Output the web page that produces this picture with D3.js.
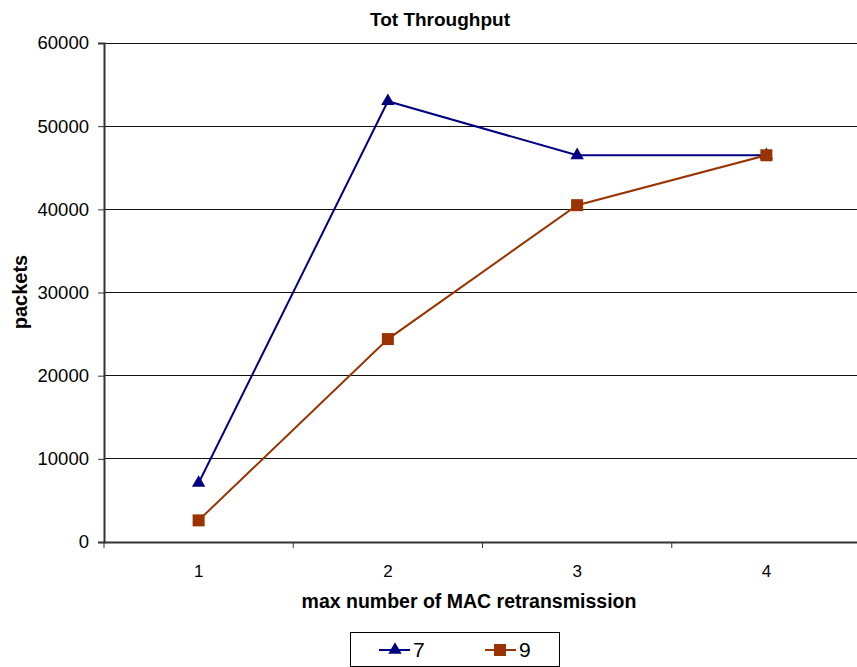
<!DOCTYPE html>
<html><head><meta charset="utf-8">
<script src="https://cdn.jsdelivr.net/npm/d3@7"></script>
<style>body{margin:0;background:#fff}svg{display:block;font-family:"Liberation Sans",Arial,sans-serif}</style>
</head><body><svg id="c" width="857" height="667"></svg>
<script>
const categories = ["1","2","3","4"];
const series7 = [7100, 53000, 46500, 46500];
const series9 = [2600, 24400, 40500, 46500];
const seriesNames = ["7","9"];
const yTicks = [0,10000,20000,30000,40000,50000,60000];

const svg = d3.select("#c");
const L=104, R=861, T=43, B=542;
const x = d3.scaleBand().domain(categories).range([L,R]);
const y = d3.scaleLinear().domain([0,60000]).range([B,T]);

// gridlines
svg.append("g").selectAll("line").data(yTicks.slice(1)).join("line")
  .attr("x1",L).attr("x2",R).attr("y1",d=>y(d)).attr("y2",d=>y(d))
  .attr("stroke","#111").attr("stroke-width",1).attr("shape-rendering","crispEdges");

// y axis
const ya = svg.append("g").attr("transform",`translate(${L},0)`)
  .call(d3.axisLeft(y).tickValues(yTicks).tickSize(6).tickPadding(9).tickFormat(d3.format("d")));
ya.attr("font-family",null).attr("font-size",null);
ya.select(".domain").attr("stroke","#333").attr("stroke-width",2);
ya.selectAll(".tick line").attr("stroke","#333");
ya.selectAll("text").attr("font-size",18.5).attr("fill","#000");

// x axis
const xa = svg.append("g").attr("transform",`translate(0,${B})`)
  .call(d3.axisBottom(x).tickSize(0).tickPadding(23));
xa.attr("font-family",null).attr("font-size",null);
xa.select(".domain").attr("stroke","#333").attr("stroke-width",2);
xa.selectAll("text").attr("font-size",17).attr("fill","#000");
xa.selectAll(".bt").data(d3.range(categories.length+1)).join("line")
  .attr("x1",i=>L+i*x.step()).attr("x2",i=>L+i*x.step()).attr("y1",0).attr("y2",6)
  .attr("stroke","#333");

const cx = d=>x(d)+x.bandwidth()/2;
const line = d3.line().x((d,i)=>cx(categories[i])).y(d=>y(d));
const tri = d3.symbol().type(d3.symbolTriangle).size(78);

svg.append("path").datum(series7).attr("d",line).attr("fill","none").attr("stroke","#000080").attr("stroke-width",2);
svg.append("path").datum(series9).attr("d",line).attr("fill","none").attr("stroke","#993300").attr("stroke-width",2);

svg.append("g").selectAll("path").data(series7).join("path")
  .attr("d",tri).attr("transform",(d,i)=>`translate(${cx(categories[i])},${y(d)})`).attr("fill","#000080");
svg.append("g").selectAll("rect").data(series9).join("rect")
  .attr("x",(d,i)=>cx(categories[i])-6).attr("y",d=>y(d)-6).attr("width",12).attr("height",12).attr("fill","#993300");

// titles
svg.append("text").attr("x",440).attr("y",26).attr("text-anchor","middle").attr("font-size",19).attr("font-weight","bold").text("Tot Throughput");
svg.append("text").attr("x",469).attr("y",608).attr("text-anchor","middle").attr("font-size",19.5).attr("font-weight","bold").text("max number of MAC retransmission");
svg.append("text").attr("transform","translate(27,292) rotate(-90)").attr("text-anchor","middle").attr("font-size",20)
  .attr("font-weight","bold").text("packets");

// legend
const lg = svg.append("g");
lg.append("rect").attr("x",350.5).attr("y",632.5).attr("width",209).attr("height",34).attr("fill","#fff").attr("stroke","#000");
const lgItems = [{n:seriesNames[0],c:"#000080",s:"tri",x0:379},{n:seriesNames[1],c:"#993300",s:"sq",x0:485}];
lgItems.forEach(it=>{
  lg.append("line").attr("x1",it.x0).attr("x2",it.x0+31).attr("y1",650).attr("y2",650).attr("stroke",it.c).attr("stroke-width",2);
  if(it.s==="tri") lg.append("path").attr("d",tri).attr("transform",`translate(${it.x0+16},650)`).attr("fill",it.c);
  else lg.append("rect").attr("x",it.x0+9).attr("y",644).attr("width",12).attr("height",12).attr("fill",it.c);
  lg.append("text").attr("x",it.x0+34).attr("y",657).attr("font-size",21).text(it.n);
});
</script></body></html>
